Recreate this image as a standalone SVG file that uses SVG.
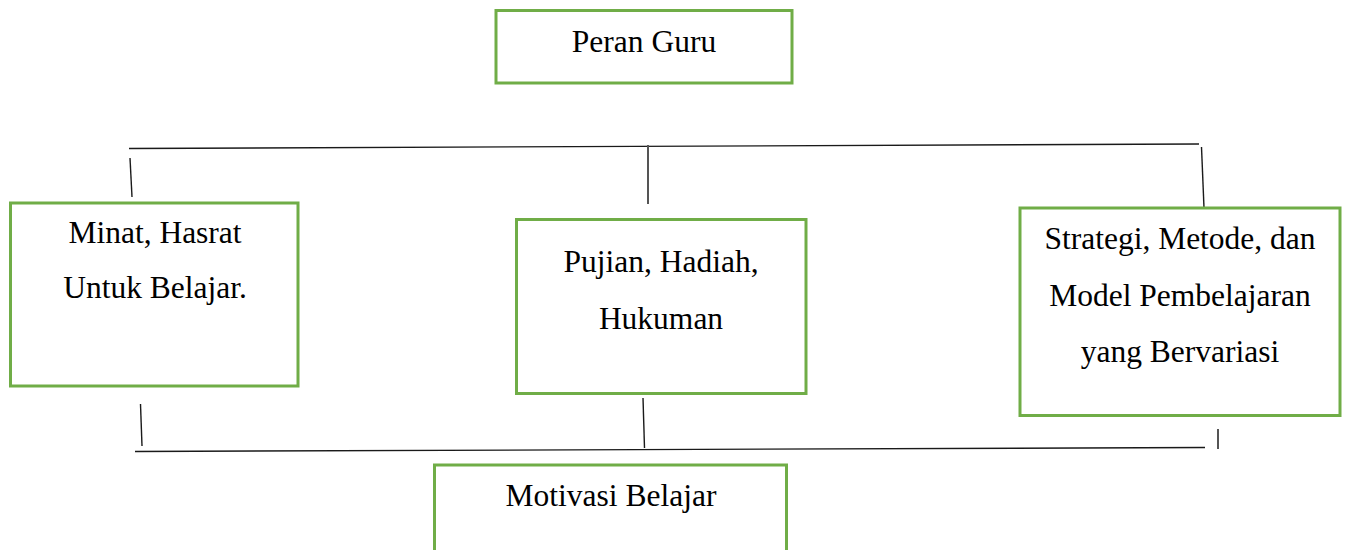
<svg xmlns="http://www.w3.org/2000/svg" width="1347" height="550" viewBox="0 0 1347 550">
<style>
.box{fill:#ffffff;stroke:#70AD47;stroke-width:3}
.lbl{font-family:'Liberation Serif','Times New Roman',Times,serif;font-size:31.5px;fill:#000;text-anchor:middle}
.ln{stroke:#1a1a1a;stroke-width:1.4;fill:none}
.lg{stroke:#555;stroke-width:2;fill:none}
</style>
<rect width="1347" height="550" fill="#ffffff"/>
<g id="connectors">
<line class="ln" x1="129" y1="148.5" x2="1199" y2="144"/>
<line class="ln" x1="130" y1="158" x2="132" y2="197"/>
<line class="lg" x1="648" y1="145" x2="648" y2="204"/>
<line class="ln" x1="1201.5" y1="147" x2="1204" y2="208"/>
<line class="ln" x1="140.5" y1="404" x2="142" y2="446"/>
<line class="ln" x1="643" y1="398" x2="644.5" y2="448"/>
<line class="ln" x1="135" y1="451.5" x2="1205" y2="447.5"/>
<line class="lg" x1="1218" y1="429" x2="1218" y2="449"/>
</g>
<g id="peran-guru">
<rect class="box" x="496" y="10.5" width="296" height="72.5"/>
<text class="lbl" x="644" y="51.5">Peran Guru</text>
</g>
<g id="minat">
<rect class="box" x="10.5" y="203" width="287.5" height="183"/>
<text class="lbl" x="155" y="243">Minat, Hasrat</text>
<text class="lbl" x="155" y="298">Untuk Belajar.</text>
</g>
<g id="pujian">
<rect class="box" x="516.5" y="219.5" width="289.5" height="174"/>
<text class="lbl" x="661" y="272">Pujian, Hadiah,</text>
<text class="lbl" x="661" y="329">Hukuman</text>
</g>
<g id="strategi">
<rect class="box" x="1020" y="208" width="320" height="207.5"/>
<text class="lbl" x="1180" y="249">Strategi, Metode, dan</text>
<text class="lbl" x="1180" y="306">Model Pembelajaran</text>
<text class="lbl" x="1180" y="362">yang Bervariasi</text>
</g>
<g id="motivasi">
<rect class="box" x="434.5" y="465" width="352" height="100"/>
<text class="lbl" x="611" y="506">Motivasi Belajar</text>
</g>
</svg>
